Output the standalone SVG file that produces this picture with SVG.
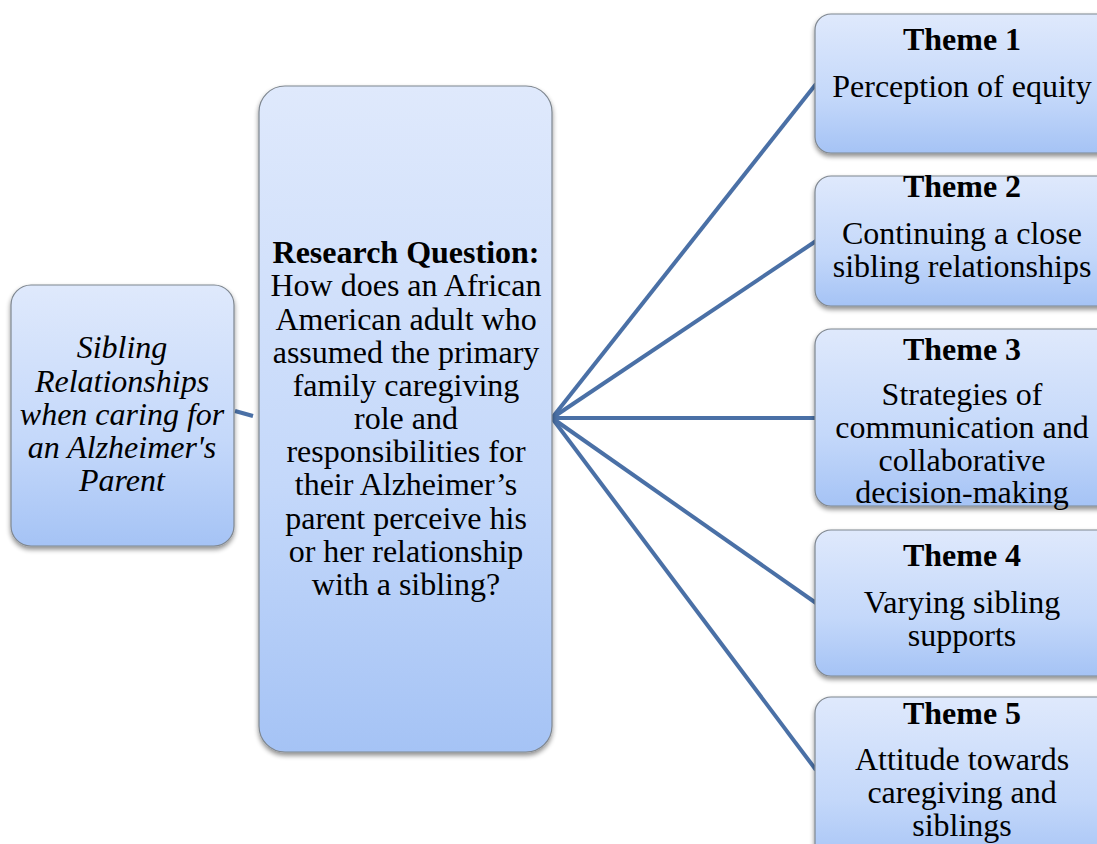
<svg xmlns="http://www.w3.org/2000/svg" width="1097" height="844" viewBox="0 0 1097 844">
<style>
.box{fill:url(#g);stroke:#7f8790;stroke-width:1.2;filter:url(#sh)}
.t{font-family:"Liberation Serif","Times New Roman",serif;font-size:32px;fill:#000;text-anchor:middle}
.b{font-weight:bold}
.i{font-style:italic;font-size:32px}
.c{stroke:#4a70a6;stroke-width:4;fill:none;stroke-linecap:butt}
</style>
<defs>
<linearGradient id="g" x1="0" y1="0" x2="0" y2="1">
<stop offset="0" stop-color="#dfe9fc"/>
<stop offset="0.6" stop-color="#c4d8fa"/>
<stop offset="1" stop-color="#a5c3f5"/>
</linearGradient>
<filter id="sh" x="-10%" y="-10%" width="120%" height="125%">
<feGaussianBlur in="SourceAlpha" stdDeviation="2.5"/>
<feOffset dx="0" dy="3" result="o"/>
<feComponentTransfer><feFuncA type="linear" slope="0.45"/></feComponentTransfer>
<feMerge><feMergeNode/><feMergeNode in="SourceGraphic"/></feMerge>
</filter>
</defs>
<rect width="1097" height="844" fill="#fff"/>
<g id="connectors">
<line class="c" x1="235" y1="411" x2="253" y2="416"/>
<line class="c" x1="552" y1="418" x2="816" y2="84"/>
<line class="c" x1="552" y1="418" x2="816" y2="241"/>
<line class="c" x1="552" y1="418" x2="816" y2="418"/>
<line class="c" x1="552" y1="418" x2="816" y2="603"/>
<line class="c" x1="552" y1="418" x2="816" y2="770"/>
</g>
<g id="topic">
<rect class="box" x="11" y="285" width="223" height="261" rx="20"/>
<text class="t i" x="122" y="358">Sibling</text>
<text class="t i" x="122" y="392">Relationships</text>
<text class="t i" x="122" y="425">when caring for</text>
<text class="t i" x="122" y="458">an Alzheimer's</text>
<text class="t i" x="122" y="491">Parent</text>
</g>
<g id="question">
<rect class="box" x="259" y="86" width="293" height="666" rx="26"/>
<text class="t b" x="406" y="263">Research Question:</text>
<text class="t" x="406" y="296">How does an African</text>
<text class="t" x="406" y="330">American adult who</text>
<text class="t" x="406" y="363">assumed the primary</text>
<text class="t" x="406" y="396">family caregiving</text>
<text class="t" x="406" y="429">role and</text>
<text class="t" x="406" y="462">responsibilities for</text>
<text class="t" x="406" y="495">their Alzheimer’s</text>
<text class="t" x="406" y="529">parent perceive his</text>
<text class="t" x="406" y="562">or her relationship</text>
<text class="t" x="406" y="595">with a sibling?</text>
</g>
<g id="theme1">
<rect class="box" x="815" y="14" width="300" height="139" rx="16"/>
<text class="t b" x="962" y="50">Theme 1</text>
<text class="t" x="962" y="97">Perception of equity</text>
</g>
<g id="theme2">
<rect class="box" x="815" y="176" width="300" height="130" rx="16"/>
<text class="t b" x="962" y="197">Theme 2</text>
<text class="t" x="962" y="244">Continuing a close</text>
<text class="t" x="962" y="277">sibling relationships</text>
</g>
<g id="theme3">
<rect class="box" x="815" y="329" width="300" height="177" rx="16"/>
<text class="t b" x="962" y="360">Theme 3</text>
<text class="t" x="962" y="405">Strategies of</text>
<text class="t" x="962" y="438">communication and</text>
<text class="t" x="962" y="471">collaborative</text>
<text class="t" x="962" y="503">decision-making</text>
</g>
<g id="theme4">
<rect class="box" x="815" y="530" width="300" height="146" rx="16"/>
<text class="t b" x="962" y="566">Theme 4</text>
<text class="t" x="962" y="613">Varying sibling</text>
<text class="t" x="962" y="646">supports</text>
</g>
<g id="theme5">
<rect class="box" x="815" y="697" width="300" height="170" rx="16"/>
<text class="t b" x="962" y="724">Theme 5</text>
<text class="t" x="962" y="770">Attitude towards</text>
<text class="t" x="962" y="803">caregiving and</text>
<text class="t" x="962" y="836">siblings</text>
</g>
</svg>
